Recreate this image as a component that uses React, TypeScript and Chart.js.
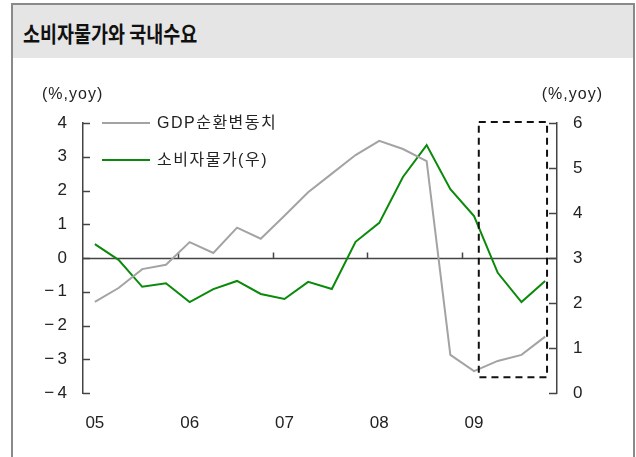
import React, { useEffect, useRef } from "react";
import { Chart, registerables } from "chart.js";

Chart.register(...registerables);

// ---- data ----
const quarters = [
  "05Q1", "05Q2", "05Q3", "05Q4",
  "06Q1", "06Q2", "06Q3", "06Q4",
  "07Q1", "07Q2", "07Q3", "07Q4",
  "08Q1", "08Q2", "08Q3", "08Q4",
  "09Q1", "09Q2", "09Q3", "09Q4",
];
const yearLabels = ["05", "06", "07", "08", "09"];
const gdpCycle = [
  -1.3, -0.89, -0.33, -0.2,
  0.47, 0.15, 0.9, 0.57,
  1.25, 1.95, 2.5, 3.05,
  3.47, 3.23, 2.87, -2.87,
  -3.35, -3.05, -2.87, -2.33,
];
const cpi = [
  3.31, 2.96, 2.36, 2.44,
  2.02, 2.31, 2.49, 2.2,
  2.09, 2.47, 2.31, 3.36,
  3.78, 4.8, 5.51, 4.53,
  3.93, 2.67, 2.02, 2.49,
];
const leftRange = [-4, 4];
const rightRange = [0, 6];
const seriesNames = ["GDP순환변동치", "소비자물가(우)"];
const axisUnit = "(%,yoy)";
const titleText = "소비자물가와 국내수요";
// highlighted box (category index span, left-axis value span)
const boxIndexFrom = 16.2;
const boxIndexTo = 19.08;
const boxTop = 4.03;
const boxBottom = -3.53;

const GRAY = "#a3a3a3";
const GREEN = "#0a8a0a";
const AXIS = "#444";
const TEXT = "#222";
const LATIN = "'Liberation Sans', 'Noto Sans CJK KR', sans-serif";

const fmt = (v: number) => (v < 0 ? "\u2212\u2009" + Math.abs(v) : String(v));

const decor = {
  id: "decor",
  beforeDatasetsDraw(chart: any) {
    const { ctx, chartArea, scales } = chart;
    const x = scales.x;
    const yL = scales.yL;
    const yR = scales.yR;
    ctx.save();
    ctx.strokeStyle = AXIS;
    ctx.lineWidth = 1.5;
    const y0 = Math.round(yL.getPixelForValue(0)) + 0.5;
    ctx.beginPath();
    ctx.moveTo(chartArea.left, y0);
    ctx.lineTo(chartArea.right, y0);
    ctx.stroke();
    // year boundary ticks on the zero line
    for (let i = 4; i < quarters.length; i += 4) {
      const xp = Math.round((x.getPixelForValue(i - 1) + x.getPixelForValue(i)) / 2) + 0.5;
      ctx.beginPath();
      ctx.moveTo(xp, y0);
      ctx.lineTo(xp, y0 - 6);
      ctx.stroke();
    }
    // inward ticks
    yL.ticks.forEach((t: any) => {
      const p = Math.round(yL.getPixelForValue(t.value)) + 0.5;
      ctx.beginPath();
      ctx.moveTo(chartArea.left, p);
      ctx.lineTo(chartArea.left + 7, p);
      ctx.stroke();
    });
    yR.ticks.forEach((t: any) => {
      const p = Math.round(yR.getPixelForValue(t.value)) + 0.5;
      ctx.beginPath();
      ctx.moveTo(chartArea.right, p);
      ctx.lineTo(chartArea.right - 8, p);
      ctx.stroke();
    });
    ctx.restore();
  },
  afterDatasetsDraw(chart: any) {
    const { ctx, chartArea, scales } = chart;
    const x = scales.x;
    const yL = scales.yL;
    ctx.save();
    // dashed highlight box
    ctx.strokeStyle = "#111";
    ctx.lineWidth = 2;
    ctx.setLineDash([7, 5]);
    const bx1 = x.getPixelForValue(boxIndexFrom);
    const bx2 = x.getPixelForValue(boxIndexTo);
    const by1 = yL.getPixelForValue(boxTop);
    const by2 = yL.getPixelForValue(boxBottom);
    ctx.strokeRect(bx1, by1, bx2 - bx1, by2 - by1);
    ctx.setLineDash([]);

    // legend
    const lx = chartArea.left + 19;
    const colors = [GRAY, GREEN];
    const ys = [chartArea.top, chartArea.top + 37];
    ctx.font = "16px " + LATIN;
    (ctx as any).letterSpacing = "1.5px";
    ctx.textBaseline = "middle";
    ctx.textAlign = "left";
    seriesNames.forEach((name, i) => {
      ctx.strokeStyle = colors[i];
      ctx.lineWidth = 2;
      ctx.beginPath();
      ctx.moveTo(lx, ys[i]);
      ctx.lineTo(lx + 48, ys[i]);
      ctx.stroke();
      ctx.fillStyle = TEXT;
      ctx.fillText(name, lx + 55, ys[i] + 1);
    });

    // axis unit titles
    (ctx as any).letterSpacing = "1px";
    ctx.font = "16px " + LATIN;
    ctx.textAlign = "left";
    ctx.fillText(axisUnit, chartArea.left - 41, chartArea.top - 28);
    ctx.textAlign = "right";
    ctx.fillText(axisUnit, chartArea.right + 46, chartArea.top - 28);
    ctx.restore();
  },
};

export default function App() {
  const ref = useRef<HTMLCanvasElement | null>(null);

  useEffect(() => {
    if (!ref.current) return;
    const chart = new Chart(ref.current, {
      type: "line",
      data: {
        labels: quarters,
        datasets: [
          {
            label: seriesNames[0],
            data: gdpCycle,
            yAxisID: "yL",
            borderColor: GRAY,
            borderWidth: 2,
            pointRadius: 0,
            tension: 0,
          },
          {
            label: seriesNames[1],
            data: cpi,
            yAxisID: "yR",
            borderColor: GREEN,
            borderWidth: 2,
            pointRadius: 0,
            tension: 0,
          },
        ],
      },
      options: {
        responsive: false,
        animation: false,
        devicePixelRatio: 1,
        layout: { padding: { top: 123, left: 0, right: 0, bottom: 0 } },
        plugins: { legend: { display: false }, tooltip: { enabled: false } },
        scales: {
          x: {
            type: "category",
            offset: true,
            grid: { display: false, drawTicks: false },
            border: { display: false },
            ticks: {
              autoSkip: false,
              maxRotation: 0,
              padding: 20,
              color: TEXT,
              font: { family: LATIN, size: 17 },
              callback: (_v: any, i: number) => (i % 4 === 0 ? yearLabels[i / 4] : ""),
            },
            afterFit: (s: any) => {
              s.height = 64;
            },
          },
          yL: {
            type: "linear",
            position: "left",
            min: leftRange[0],
            max: leftRange[1],
            grid: { display: false, drawTicks: false },
            border: { display: true, color: AXIS, width: 1.5 },
            ticks: {
              stepSize: 1,
              padding: 16,
              color: TEXT,
              font: { family: LATIN, size: 17 },
              callback: (v: any) => fmt(Number(v)),
            },
            afterFit: (s: any) => {
              s.width = 83;
            },
          },
          yR: {
            type: "linear",
            position: "right",
            min: rightRange[0],
            max: rightRange[1],
            grid: { display: false, drawTicks: false },
            border: { display: true, color: AXIS, width: 1.5 },
            ticks: {
              stepSize: 1,
              padding: 16,
              color: TEXT,
              font: { family: LATIN, size: 17 },
              callback: (v: any) => fmt(Number(v)),
            },
            afterFit: (s: any) => {
              s.width = 79;
            },
          },
        },
      },
      plugins: [decor],
    });
    return () => chart.destroy();
  }, []);

  return (
    <div style={{ position: "absolute", left: 0, top: 0, width: 636, height: 457, overflow: "hidden", background: "#fff" }}>
      <div
        style={{
          position: "absolute",
          left: 11,
          top: 3,
          width: 620,
          height: 480,
          border: "2px solid #8a8a8a",
          boxSizing: "content-box",
        }}
      >
        <div
          style={{
            height: 53,
            background: "#e5e5e5",
            display: "flex",
            alignItems: "center",
          }}
        >
          <span
            style={{
              marginLeft: 10,
              fontFamily: "'Noto Sans CJK KR', sans-serif",
              fontWeight: 700,
              fontSize: 22,
              color: "#111",
              display: "inline-block",
              transform: "scaleX(0.84)",
              transformOrigin: "left center",
              whiteSpace: "nowrap",
            }}
          >
            {titleText}
          </span>
        </div>
      </div>
      <canvas ref={ref} width={636} height={457} style={{ position: "absolute", left: 0, top: 0, width: 636, height: 457 }} />
    </div>
  );
}
